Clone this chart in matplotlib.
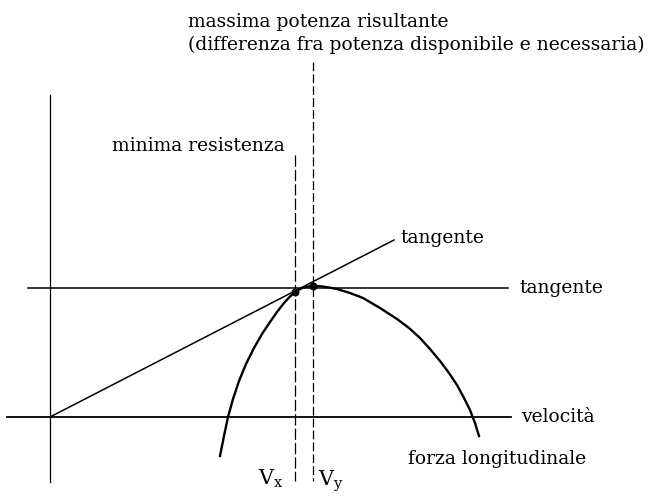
import matplotlib.pyplot as plt

plt.rcParams['mathtext.fontset'] = 'dejavuserif'

# diagram coordinates (pixel-like units, y grows downward)
curve_x = [220, 224, 228, 233, 239, 246, 254, 262, 270, 277, 284, 290, 295, 301, 307, 313, 320, 328,
           337, 350, 363, 380, 397, 409, 420, 430, 440, 449, 457, 464, 470, 475, 479]
curve_y = [456, 436, 417, 399, 381, 364, 348, 334, 322, 312, 303, 296.5, 292, 288.5, 286.6, 286, 286.2, 287.3,
           289, 293, 298, 308, 319, 328, 338, 349, 361, 373, 385, 398, 410, 423, 436]

axis_v = ([50, 50], [95, 482])
axis_h = ([7, 511], [417, 417])
tang_h = ([28, 508], [288, 288])
tang_line = ([50, 394], [417, 240])
vx_line = ([295, 295], [155, 481])
vy_line = ([313, 313], [62, 481])
points_x = [295, 313]
points_y = [292, 286]

labels = [
    ("massima potenza risultante", 188, 22),
    ("(differenza fra potenza disponibile e necessaria)", 188, 45),
    ("minima resistenza", 112, 146),
    ("tangente", 400, 238),
    ("tangente", 519, 288),
    ("velocità", 521, 417),
    ("forza longitudinale", 408, 459),
]

fig = plt.figure(figsize=(6.53, 5.01), dpi=100)
ax = fig.add_axes([0, 0, 1, 1])
ax.set_xlim(0, 653)
ax.set_ylim(501, 0)
ax.axis('off')

ax.plot(*axis_v, color='black', lw=0.9)
ax.plot(*axis_h, color='black', lw=1.3)
ax.plot(*tang_h, color='black', lw=1.1)
ax.plot(*tang_line, color='black', lw=1.1)
ax.plot(*vx_line, color='black', lw=0.9, dashes=(9, 2.5))
ax.plot(*vy_line, color='black', lw=0.9, dashes=(7, 2.5))
ax.plot(curve_x, curve_y, color='black', lw=1.7)
ax.scatter(points_x, points_y, s=22, color='black', zorder=5)

for txt, x, y in labels:
    ax.text(x, y, txt, fontsize=13.5, family='DejaVu Serif', va='center', ha='left')

ax.text(258, 479, r'$\mathrm{V_x}$', fontsize=15, va='center', ha='left')
ax.text(318, 481, r'$\mathrm{V_y}$', fontsize=15, va='center', ha='left')

fig.savefig('out.png', dpi=100)
